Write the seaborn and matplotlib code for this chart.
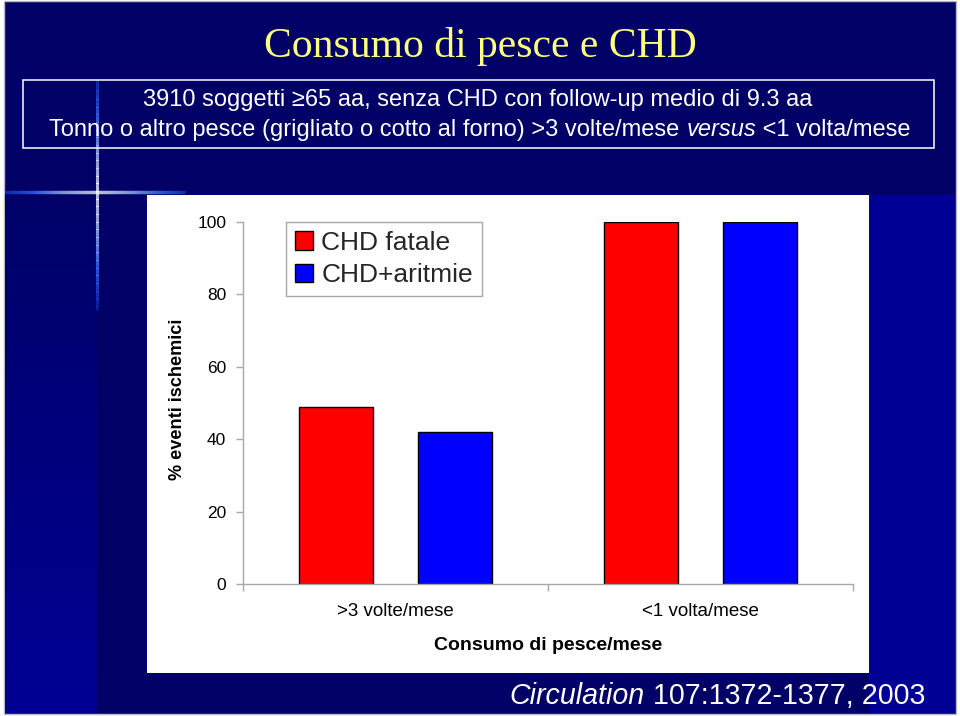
import numpy as np
import pandas as pd
import matplotlib
matplotlib.use("Agg")
import matplotlib.pyplot as plt
import seaborn as sns
from matplotlib.patches import Rectangle
from matplotlib.ticker import FixedLocator
from matplotlib.colors import LinearSegmentedColormap
from matplotlib.collections import LineCollection

# ---- data ----
categories = [">3 volte/mese", "<1 volta/mese"]
series_names = ["CHD fatale", "CHD+aritmie"]
chd_fatale = [49, 100]
chd_aritmie = [42, 100]
y_ticks = [0, 20, 40, 60, 80, 100]
series_colors = ["#FF0000", "#0000FF"]

title = "Consumo di pesce e CHD"
box_line1 = "3910 soggetti \u226565 aa, senza CHD con follow-up medio di 9.3 aa"
box_line2 = ["Tonno o altro pesce (grigliato o cotto al forno) >3 volte/mese ", "versus", " <1 volta/mese"]
citation = ["Circulation", " 107:1372-1377, 2003"]
ylabel = "% eventi ischemici"
xlabel = "Consumo di pesce/mese"

df = pd.DataFrame({
    "cat": categories * 2,
    "serie": [series_names[0]] * 2 + [series_names[1]] * 2,
    "val": chd_fatale + chd_aritmie,
})

sns.set_theme(style="white")
plt.rcParams["font.family"] = ["Liberation Sans", "DejaVu Sans"]

W, H = 960, 716
fig = plt.figure(figsize=(W / 100, H / 100), dpi=100)
fig.patch.set_facecolor("white")

# ---- background (pixel coordinates) ----
bg = fig.add_axes([0, 0, 1, 1], zorder=0)
bg.set_xlim(0, W)
bg.set_ylim(H, 0)
bg.axis("off")
navy = "#000066"
bg.add_patch(Rectangle((4, 1), 952, 713, facecolor=navy, edgecolor="#B8B8C8", lw=1))
grad = np.linspace(0, 1, 100).reshape(-1, 1)
cm = LinearSegmentedColormap.from_list("g", ["#000068", "#000094"])
bg.imshow(grad, extent=(5, 97, 713, 194), cmap=cm, aspect="auto", zorder=1)
bg.add_patch(Rectangle((869, 195), 86, 518, facecolor="#000094", edgecolor="none", zorder=1))
bg.add_patch(Rectangle((147, 195), 722, 478, facecolor="white", edgecolor="none", zorder=2))

# glowing cross (smooth gradient segments)
glow = LinearSegmentedColormap.from_list("glow", ["#000066", "#1535C0", "#3A6AFF", "#A8C4FF", "#FFFFFF"])
def glow_line(p0, p1, center, reach, lw):
    n = 200
    xs = np.linspace(p0[0], p1[0], n + 1)
    ys = np.linspace(p0[1], p1[1], n + 1)
    segs = [[(xs[i], ys[i]), (xs[i + 1], ys[i + 1])] for i in range(n)]
    mx = (xs[:-1] + xs[1:]) / 2
    my = (ys[:-1] + ys[1:]) / 2
    d = np.hypot(mx - center[0], my - center[1])
    v = np.clip(1 - d / reach, 0, 1) ** 0.8
    lc = LineCollection(segs, colors=glow(v), linewidths=lw, zorder=3)
    bg.add_collection(lc)

glow_line((5, 192), (185, 192), (97, 192), 110, 2.4)
glow_line((97, 80), (97, 310), (97, 192), 130, 2.2)

# title
bg.text(480, 46, title, ha="center", va="center", fontsize=30,
        family=["Liberation Serif", "DejaVu Serif"], color="#FFFF80", zorder=4)
# info box
bg.add_patch(Rectangle((23, 80), 911, 68, facecolor="none", edgecolor="white", lw=1.1, zorder=4))
bg.text(478, 100, box_line1, ha="center", va="center", fontsize=17, color="white", zorder=4)

fig.canvas.draw()
renderer = fig.canvas.get_renderer()

def mixed_line(parts, styles, y, x_center=None, x_right=None, fontsize=17):
    texts = []
    for p, s in zip(parts, styles):
        t = bg.text(0, y, p, ha="left", va="center", fontsize=fontsize, style=s,
                    color="white", zorder=4)
        texts.append(t)
    widths = [t.get_window_extent(renderer=renderer).width for t in texts]
    total = sum(widths)
    x = x_center - total / 2 if x_center is not None else x_right - total
    for t, w in zip(texts, widths):
        t.set_x(x)
        x += w

mixed_line(box_line2, ["normal", "italic", "normal"], 130, x_center=480, fontsize=17)
mixed_line(citation, ["italic", "normal"], 696, x_right=925, fontsize=20.6)

# ---- chart ----
ax = fig.add_axes([243 / W, (H - 584) / H, 610 / W, 362 / H], zorder=5)
ax.set_facecolor("white")
sns.barplot(data=df, x="cat", y="val", hue="serie", order=categories,
            hue_order=series_names, palette=series_colors, width=0.78, gap=0.37,
            edgecolor="black", linewidth=1, saturation=1, ax=ax, errorbar=None)
ax.set_xlim(-0.5, 1.5)
ax.set_ylim(0, 100)
ax.set_yticks(y_ticks)
ax.set_yticklabels([str(v) for v in y_ticks])
for s in ["top", "right"]:
    ax.spines[s].set_visible(False)
for s in ["left", "bottom"]:
    ax.spines[s].set_color("#A8A8A8")
    ax.spines[s].set_linewidth(1)
ax.tick_params(axis="y", which="major", left=True, length=5, width=1, color="#A8A8A8",
               labelsize=12.5, pad=7, labelcolor="black", direction="out")
ax.tick_params(axis="x", which="major", bottom=True, length=0, labelsize=13.5, pad=14,
               labelcolor="black")
ax.xaxis.set_minor_locator(FixedLocator([-0.5, 0.5, 1.5]))
ax.tick_params(axis="x", which="minor", bottom=True, length=5, width=1, color="#A8A8A8",
               direction="out")
ax.grid(False)

ax.set_xlabel(xlabel, fontsize=14, fontweight="bold", color="black")
ax.set_ylabel(ylabel, fontsize=13.1, fontweight="bold", color="black")
ax.xaxis.set_label_coords(0.5, (584 - 645) / 362)
ax.xaxis.label.set_va("center")
ax.yaxis.set_label_coords((177 - 243) / 610, (584 - 399) / 362)
ax.yaxis.label.set_va("center")

leg = ax.legend(loc="upper left", bbox_to_anchor=((286 - 243) / 610, 1.0),
                borderaxespad=0, fontsize=19, frameon=True, fancybox=False,
                handlelength=0.68, handleheight=0.68, handletextpad=0.33,
                labelspacing=0.32, borderpad=0.33, title=None)
leg.get_frame().set_edgecolor("#A8A8A8")
leg.get_frame().set_linewidth(1)
leg.get_frame().set_facecolor("white")
leg.get_frame().set_alpha(1)
for h in leg.legend_handles:
    h.set_edgecolor("black")
    h.set_linewidth(1)

fig.savefig("out.png", dpi=100, facecolor=fig.get_facecolor())
